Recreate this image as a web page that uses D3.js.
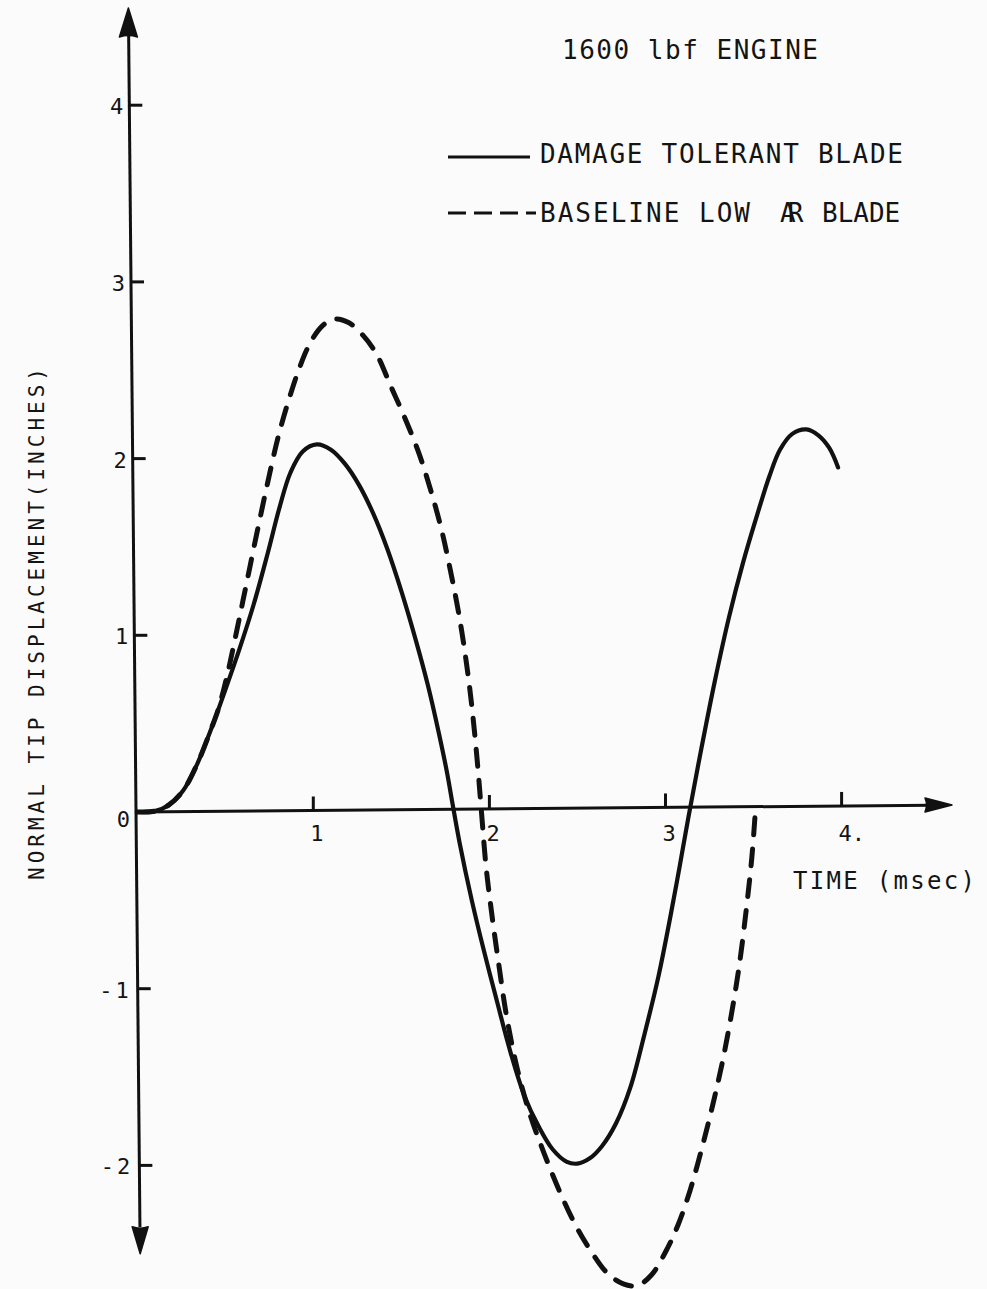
<!DOCTYPE html>
<html>
<head>
<meta charset="utf-8">
<script src="https://cdn.jsdelivr.net/npm/d3@7"></script>
<style>
  html, body { margin: 0; padding: 0; background: #fbfbfb; }
  svg { display: block; }
  text { font-family: "DejaVu Sans Mono", monospace; fill: #141414; }
</style>
</head>
<body>
<script>
// ---------------- data ----------------
const title = "1600 lbf ENGINE";
const seriesNames = ["DAMAGE TOLERANT BLADE", "BASELINE LOW"];
const xLabel = "TIME (msec)";
const yLabel = "NORMAL TIP DISPLACEMENT(INCHES)";

const xTicks = [1, 2, 3, 4];
const xTickLabels = ["1", "2", "3", "4."];
const yTicks = [-2, -1, 0, 1, 2, 3, 4];
const yTickLabels = ["-2", "-1", "0", "1", "2", "3", "4"];

// Damage tolerant blade (solid)  time (msec), displacement (in)
const damageT = [0, 0.10, 0.18, 0.26, 0.34, 0.42, 0.50, 0.58, 0.66, 0.74, 0.81, 0.87, 0.94,
  1.02, 1.10, 1.18, 1.26, 1.34, 1.42, 1.50, 1.58, 1.65, 1.71, 1.76, 1.79, 1.83, 1.90, 1.97,
  2.04, 2.12, 2.20, 2.28, 2.36, 2.44, 2.50, 2.57, 2.64, 2.72, 2.80, 2.88, 2.96,
  3.03, 3.08, 3.13, 3.20, 3.28, 3.36, 3.44, 3.52, 3.59, 3.65, 3.72, 3.80, 3.87, 3.93, 3.98];
const damageV = [0, 0.005, 0.04, 0.12, 0.27, 0.47, 0.69, 0.92, 1.17, 1.46, 1.73, 1.92, 2.04,
  2.08, 2.05, 1.97, 1.85, 1.69, 1.49, 1.25, 0.98, 0.72, 0.46, 0.22, 0.05, -0.17, -0.50, -0.79,
  -1.06, -1.36, -1.61, -1.78, -1.91, -1.98, -1.99, -1.96, -1.89, -1.76, -1.56, -1.26, -0.93,
  -0.58, -0.31, -0.03, 0.34, 0.74, 1.10, 1.41, 1.68, 1.90, 2.05, 2.14, 2.165, 2.13, 2.06, 1.95];

// Baseline low AR blade (dashed)
const baseT = [0, 0.10, 0.18, 0.26, 0.34, 0.42, 0.46, 0.51, 0.56, 0.62, 0.68, 0.74, 0.80, 0.86, 0.92, 0.98,
  1.05, 1.12, 1.20, 1.28, 1.36, 1.44, 1.52, 1.60, 1.67, 1.73, 1.78, 1.83, 1.87, 1.90, 1.93, 1.955,
  1.98, 2.01, 2.05, 2.10, 2.16, 2.23, 2.31, 2.40, 2.49, 2.58, 2.67, 2.76, 2.84, 2.92,
  3.00, 3.07, 3.14, 3.21, 3.27, 3.32, 3.37, 3.42, 3.46, 3.49, 3.51];
const baseV = [0, 0.005, 0.04, 0.12, 0.27, 0.47, 0.58, 0.77, 1.00, 1.29, 1.58, 1.86, 2.12, 2.33, 2.51, 2.65,
  2.75, 2.79, 2.77, 2.70, 2.59, 2.41, 2.23, 2.03, 1.81, 1.59, 1.36, 1.10, 0.84, 0.60, 0.30, 0.0,
  -0.30, -0.55, -0.84, -1.17, -1.46, -1.71, -1.93, -2.15, -2.34, -2.49, -2.61, -2.67, -2.68, -2.62,
  -2.49, -2.34, -2.14, -1.89, -1.65, -1.43, -1.17, -0.86, -0.54, -0.26, 0.0];

// ---------------- drawing ----------------
const W = 987, H = 1289;
const svg = d3.select("body").append("svg").attr("width", W).attr("height", H);
svg.append("rect").attr("width", W).attr("height", H).attr("fill", "#fbfbfb");

const x = d3.scaleLinear().domain([0, 4]).range([137.2, 841.6]);
const y = d3.scaleLinear().domain([0, 4]).range([812, 105.2]);
const ink = "#111";

// y axis (slightly slanted like the hand drawing)
const yTop = { px: x(-0.05), py: y(4.55) };
const yBot = { px: x(0.017), py: y(-2.5) };
const axX = py => yTop.px + (py - yTop.py) * (yBot.px - yTop.px) / (yBot.py - yTop.py);

svg.append("line")
  .attr("x1", axX(y(4.4))).attr("y1", y(4.4))
  .attr("x2", axX(y(-2.35))).attr("y2", y(-2.35))
  .attr("stroke", ink).attr("stroke-width", 3);
svg.append("path")
  .attr("d", `M${yTop.px},${yTop.py} L${yTop.px - 9},${yTop.py + 29} Q${yTop.px},${yTop.py + 26} ${yTop.px + 9},${yTop.py + 29} Z`)
  .attr("fill", ink).attr("stroke", ink).attr("stroke-width", 1.5).attr("stroke-linejoin", "round");
svg.append("path")
  .attr("d", `M${yBot.px},${yBot.py} L${yBot.px - 8},${yBot.py - 27} Q${yBot.px},${yBot.py - 24} ${yBot.px + 8},${yBot.py - 27} Z`)
  .attr("fill", ink).attr("stroke", ink).attr("stroke-width", 1.5).attr("stroke-linejoin", "round");

yTicks.forEach((v, i) => {
  const py = y(v), px = axX(py);
  if (v !== 0) {
    svg.append("line").attr("x1", px).attr("x2", px + 13).attr("y1", py).attr("y2", py)
      .attr("stroke", ink).attr("stroke-width", 3);
  }
  svg.append("text").attr("x", px - 6).attr("y", py + (v === 0 ? 15 : 9))
    .attr("text-anchor", "end").attr("font-size", 22).attr("fill", "#2a2a2a")
    .attr("letter-spacing", v < 0 ? 3 : 0)
    .text(yTickLabels[i]);
});

// x axis (slight slope as in original)
const xEnd = { px: 952, py: 805 };
const xStart = { px: x(0), py: y(0) };
const axY = px => xStart.py + (px - xStart.px) * (xEnd.py - xStart.py) / (xEnd.px - xStart.px);
svg.append("line")
  .attr("x1", xStart.px).attr("y1", xStart.py)
  .attr("x2", xEnd.px - 20).attr("y2", axY(xEnd.px - 20))
  .attr("stroke", ink).attr("stroke-width", 3);
svg.append("path")
  .attr("d", `M${xEnd.px},${xEnd.py} L${xEnd.px - 27},${xEnd.py - 7} Q${xEnd.px - 24},${xEnd.py} ${xEnd.px - 27},${xEnd.py + 7} Z`)
  .attr("fill", ink).attr("stroke", ink).attr("stroke-width", 1.5).attr("stroke-linejoin", "round");

xTicks.forEach((t, i) => {
  const px = x(t), py = axY(px);
  svg.append("line").attr("x1", px).attr("x2", px).attr("y1", py).attr("y2", py - 14)
    .attr("stroke", ink).attr("stroke-width", 3);
  svg.append("text").attr("x", px - 3).attr("y", 841)
    .attr("font-size", 22).attr("fill", "#2a2a2a")
    .text(xTickLabels[i]);
});

// curves
const line = d3.line().x(d => x(d[0])).y(d => y(d[1])).curve(d3.curveCatmullRom.alpha(0.5));
const damage = damageT.map((t, i) => [t, damageV[i]]);
const base = baseT.map((t, i) => [t, baseV[i]]);

svg.append("path").attr("d", line(base)).attr("fill", "none")
  .attr("stroke", ink).attr("stroke-width", 5)
  .attr("stroke-dasharray", "17,14").attr("stroke-linecap", "round");
svg.append("path").attr("d", line(damage)).attr("fill", "none")
  .attr("stroke", ink).attr("stroke-width", 4.2).attr("stroke-linecap", "round");

// title + legend
svg.append("text").attr("x", 562).attr("y", 59).attr("font-size", 26)
  .attr("textLength", 256).attr("lengthAdjust", "spacing").text(title);

svg.append("line").attr("x1", 448).attr("x2", 530).attr("y1", 157).attr("y2", 157)
  .attr("stroke", ink).attr("stroke-width", 3);
svg.append("text").attr("x", 540).attr("y", 163).attr("font-size", 26)
  .attr("textLength", 363).attr("lengthAdjust", "spacing").text(seriesNames[0]);

svg.append("line").attr("x1", 448).attr("x2", 536).attr("y1", 213).attr("y2", 213)
  .attr("stroke", ink).attr("stroke-width", 3).attr("stroke-dasharray", "18,8");
const leg2 = svg.append("text").attr("x", 540).attr("y", 222).attr("font-size", 26);
leg2.append("tspan").attr("textLength", 210).attr("lengthAdjust", "spacing").text(seriesNames[1]);
// aspect-ratio symbol: A and R overlapped in one run, then BLADE
leg2.append("tspan").attr("x", 780).attr("letter-spacing", -8).text("AR");
leg2.append("tspan").attr("x", 822).attr("letter-spacing", 0).text("BLADE");

// axis titles
svg.append("text").attr("x", 793).attr("y", 889).attr("font-size", 24)
  .attr("textLength", 182).attr("lengthAdjust", "spacing").text(xLabel);

svg.append("text").attr("transform", "translate(44,880) rotate(-90)")
  .attr("font-size", 21).attr("textLength", 512).attr("lengthAdjust", "spacing")
  .text(yLabel);
</script>
</body>
</html>
